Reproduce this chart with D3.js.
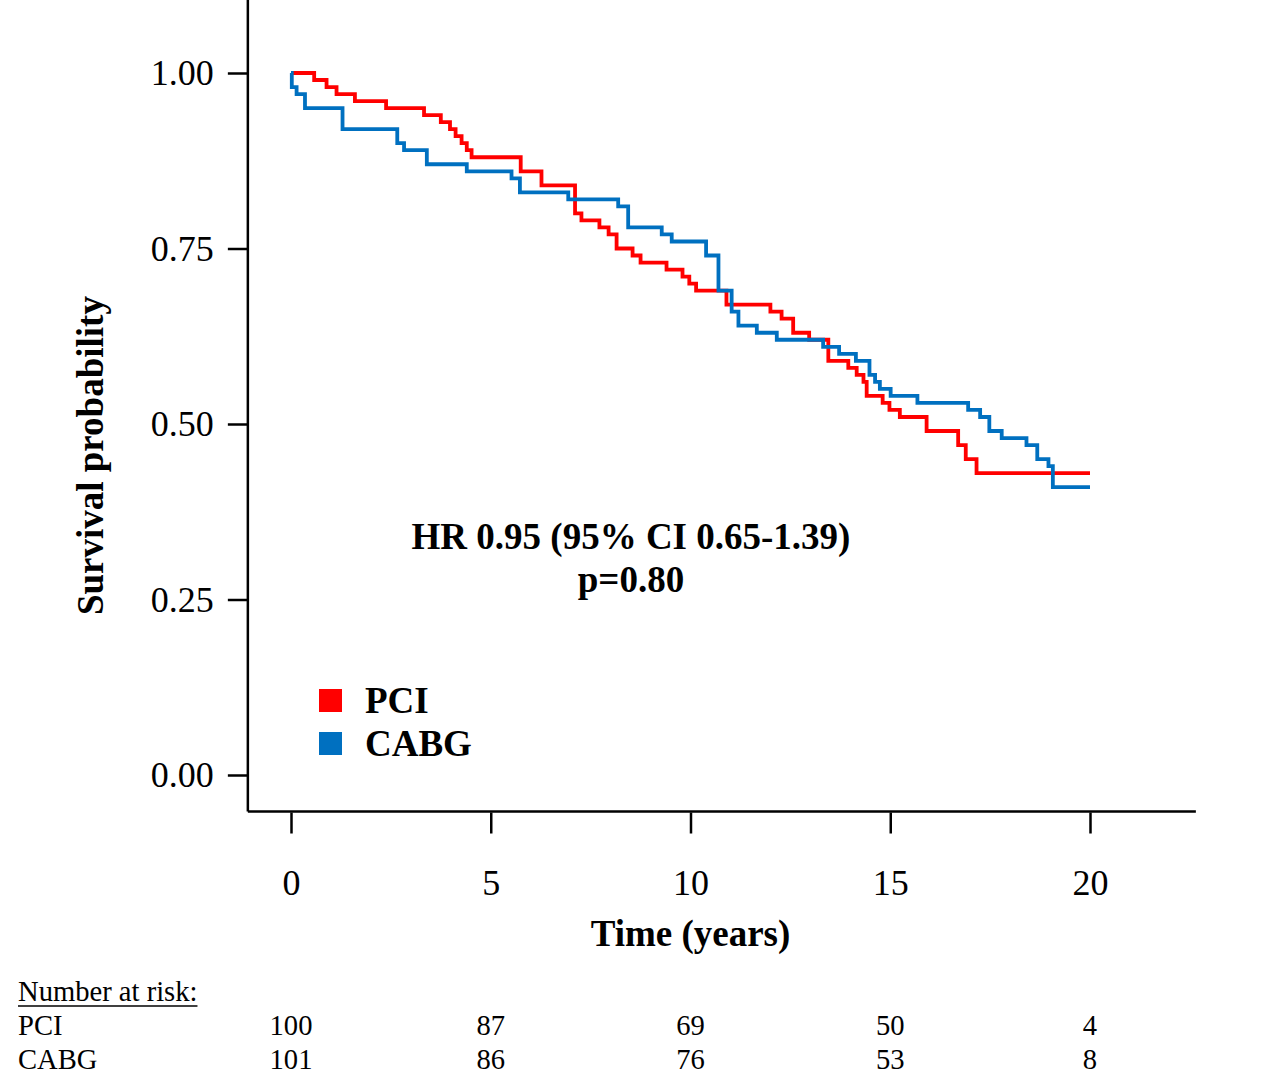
<!DOCTYPE html>
<html>
<head>
<meta charset="utf-8">
<script src="https://cdn.jsdelivr.net/npm/d3@7"></script>
<style>
  body { margin: 0; background: #fff; }
  text { font-family: "Liberation Serif", "Times New Roman", serif; fill: #000; }
</style>
</head>
<body>
<div id="chart"></div>
<script>
// Kaplan-Meier steps
const pciTime = [0, 0.58, 0.89, 1.14, 1.60, 2.38, 3.33, 3.75, 3.98, 4.12, 4.27, 4.40, 4.52, 5.75, 6.27,
  7.11, 7.27, 7.72, 7.95, 8.15, 8.55, 8.75, 9.40, 9.80, 9.97, 10.14, 10.90, 12.00, 12.28, 12.57, 12.97,
  13.45, 13.95, 14.16, 14.33, 14.41, 14.81, 14.98, 15.24, 15.91, 16.70, 16.89, 17.16, 20.00];
const pciSurv = [1.00, 0.99, 0.98, 0.97, 0.96, 0.95, 0.94, 0.93, 0.92, 0.91, 0.90, 0.89, 0.88, 0.86, 0.84,
  0.80, 0.79, 0.78, 0.77, 0.75, 0.74, 0.73, 0.72, 0.71, 0.70, 0.69, 0.67, 0.66, 0.65, 0.63, 0.62,
  0.59, 0.58, 0.57, 0.56, 0.54, 0.53, 0.52, 0.51, 0.49, 0.47, 0.45, 0.43, 0.43];

const cabgTime = [0, 0.02, 0.14, 0.35, 1.29, 2.66, 2.83, 3.40, 4.40, 5.52, 5.73, 6.94, 8.19, 8.44, 9.28,
  9.53, 10.39, 10.70, 11.03, 11.20, 11.66, 12.16, 13.32, 13.72, 14.14, 14.48, 14.62, 14.74, 15.01,
  15.68, 16.95, 17.25, 17.48, 17.79, 18.41, 18.68, 18.96, 19.07, 20.00];
const cabgSurv = [1.00, 0.98, 0.97, 0.95, 0.92, 0.90, 0.89, 0.87, 0.86, 0.85, 0.83, 0.82, 0.81, 0.78, 0.77,
  0.76, 0.74, 0.69, 0.66, 0.64, 0.63, 0.62, 0.61, 0.60, 0.59, 0.57, 0.56, 0.55, 0.54,
  0.53, 0.52, 0.51, 0.49, 0.48, 0.47, 0.45, 0.44, 0.41, 0.41];

const groups = ["PCI", "CABG"];
const groupColors = ["#ff0000", "#0070c0"];

const xTicks = [0, 5, 10, 15, 20];
const yTicks = [0, 0.25, 0.5, 0.75, 1];
const riskPCI = [100, 87, 69, 50, 4];
const riskCABG = [101, 86, 76, 53, 8];

const hrLabel = "HR 0.95 (95% CI 0.65-1.39)";
const pLabel = "p=0.80";

// Canvas
const W = 1281, H = 1080;
const svg = d3.select("#chart").append("svg")
    .attr("width", W)
    .attr("height", H);

// Scales
const x = d3.scaleLinear().domain([0, 20]).range([291, 1090]);
const y = d3.scaleLinear().domain([0, 1]).range([775, 73]);

// axis lines run past the data range
const xLineExtent = [-1.08, 22.65];
const yLineExtent = [-0.052, 1.105];
const axisX0 = x(xLineExtent[0]);
const axisY0 = y(yLineExtent[0]);

// Y axis
const yAxis = svg.append("g")
    .attr("transform", `translate(${axisX0},0)`)
    .call(d3.axisLeft(y).tickValues(yTicks).tickFormat(d3.format(".2f"))
        .tickSize(20).tickPadding(14).tickSizeOuter(0));
yAxis.select(".domain").remove();
yAxis.selectAll("line").attr("stroke", "#000").attr("stroke-width", 2.5);
yAxis.selectAll("text").attr("font-size", 36).attr("font-family", "Liberation Serif");

svg.append("line")
    .attr("x1", axisX0).attr("x2", axisX0)
    .attr("y1", y(yLineExtent[1])).attr("y2", axisY0)
    .attr("stroke", "#000").attr("stroke-width", 2.5);

// X axis
const xAxis = svg.append("g")
    .attr("transform", `translate(0,${axisY0 + 1})`)
    .call(d3.axisBottom(x).tickValues(xTicks).tickFormat(d3.format("d"))
        .tickSize(21).tickPadding(36).tickSizeOuter(0));
xAxis.select(".domain").remove();
xAxis.selectAll("line").attr("stroke", "#000").attr("stroke-width", 2.5);
xAxis.selectAll("text").attr("font-size", 36).attr("font-family", "Liberation Serif");

svg.append("line")
    .attr("x1", axisX0).attr("x2", x(xLineExtent[1]))
    .attr("y1", axisY0).attr("y2", axisY0)
    .attr("stroke", "#000").attr("stroke-width", 2.5);

// Axis titles
svg.append("text")
    .attr("x", x(10)).attr("y", 946)
    .attr("text-anchor", "middle")
    .attr("font-size", 37).attr("font-weight", "bold")
    .text("Time (years)");

svg.append("text")
    .attr("transform", `translate(103,${y(0.455)}) rotate(-90)`)
    .attr("text-anchor", "middle")
    .attr("font-size", 37).attr("font-weight", "bold")
    .text("Survival probability");

// Curves (CABG drawn last, on top)
const line = d3.line()
    .x(d => x(d[0]))
    .y(d => y(d[1]))
    .curve(d3.curveStepAfter);

const curves = [d3.zip(pciTime, pciSurv), d3.zip(cabgTime, cabgSurv)];

svg.selectAll(".km")
    .data(curves)
    .enter()
    .append("path")
    .attr("class", "km")
    .attr("fill", "none")
    .attr("stroke", (d, i) => groupColors[i])
    .attr("stroke-width", 3.8)
    .attr("d", line);

// HR annotation
svg.append("text")
    .attr("x", 631).attr("y", 549)
    .attr("text-anchor", "middle")
    .attr("font-size", 37).attr("font-weight", "bold")
    .text(hrLabel);
svg.append("text")
    .attr("x", 631).attr("y", 592)
    .attr("text-anchor", "middle")
    .attr("font-size", 37).attr("font-weight", "bold")
    .text(pLabel);

// Legend
const legend = svg.append("g").attr("transform", "translate(319,689)");
groups.forEach((g, i) => {
    legend.append("rect")
        .attr("x", 0).attr("y", i * 43)
        .attr("width", 23).attr("height", 23)
        .attr("fill", groupColors[i]);
    legend.append("text")
        .attr("x", 46).attr("y", i * 43 + 24)
        .attr("font-size", 37).attr("font-weight", "bold")
        .text(g);
});

// Number at risk table
const risk = svg.append("g");
const hdr = risk.append("text")
    .attr("x", 18).attr("y", 1001)
    .attr("font-size", 28.6)
    .text("Number at risk:");
const hw = hdr.node().getComputedTextLength();
risk.append("line")
    .attr("x1", 18).attr("x2", 18 + hw)
    .attr("y1", 1006).attr("y2", 1006)
    .attr("stroke", "#000").attr("stroke-width", 1.5);

const rows = [riskPCI, riskCABG];
rows.forEach((vals, r) => {
    const yy = 1035 + r * 34;
    risk.append("text")
        .attr("x", 18).attr("y", yy)
        .attr("font-size", 28.6)
        .text(groups[r]);
    risk.selectAll(null)
        .data(vals)
        .enter()
        .append("text")
        .attr("x", (d, i) => x(xTicks[i]))
        .attr("y", yy)
        .attr("text-anchor", "middle")
        .attr("font-size", 28.6)
        .text(d => d);
});
</script>
</body>
</html>
